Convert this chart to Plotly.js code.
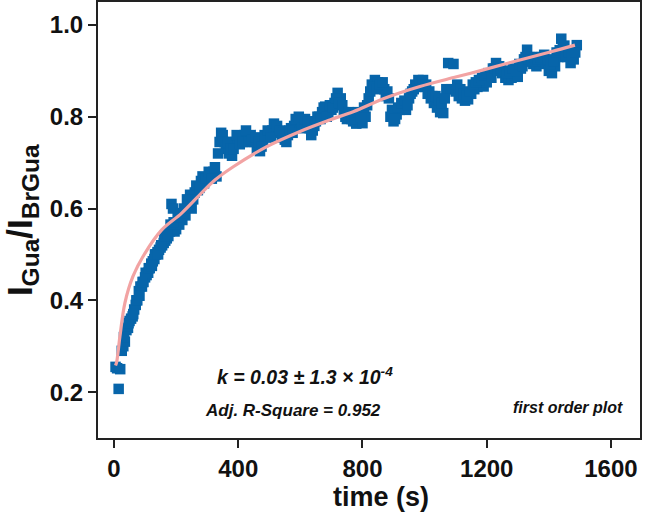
<!DOCTYPE html>
<html>
<head>
<meta charset="utf-8">
<script src="https://cdn.plot.ly/plotly-3.0.1.min.js"></script>
<style>html,body{margin:0;padding:0;background:#fff;}#chart{width:648px;height:513px;}</style>
</head>
<body>
<div id="chart"></div>
<script>
// measured data (time in s, intensity ratio) - first pass of read points
var timeS = [5,10,15,20,25,30,35,40,45,50,55,60,65,70,75,80,85,90,95,100,
  105,110,115,120,125,130,135,140,145,150,155,160,165,170,175,180,185,190,195,200,
  210,220,230,235,240,250,260,270,280,290,300,310,320,330,340,345,350,360,370,380,
  390,400,410,420,430,440,450,460,470,480,490,500,510,520,530,540,550,560,570,580,
  590,600,610,620,630,640,650,660,670,680,690,700,710,720,730,740,750,760,770,780,
  790,800,810,820,830,840,850,860,870,880,890,900,910,920,930,940,950,960,970,980,
  990,1000,1010,1020,1030,1040,1050,1060,1070,1076,1085,1093,1100,1110,1120,1130,1140,1150,1160,1170,
  1180,1190,1200,1210,1220,1230,1240,1250,1260,1270,1280,1290,1300,1310,1320,1330,1340,1350,1360,1370,
  1380,1390,1400,1410,1420,1430,1440,1450,1460,1470,1480,1490];
var ratio = [0.255,0.252,0.207,0.25,0.29,0.30,0.31,0.335,0.34,0.355,0.36,0.365,0.38,0.39,0.40,0.42,0.43,0.43,0.44,0.45,
  0.455,0.46,0.47,0.48,0.485,0.49,0.50,0.505,0.51,0.515,0.52,0.525,0.53,0.535,0.54,0.55,0.61,0.60,0.55,0.555,
  0.565,0.575,0.585,0.62,0.615,0.60,0.635,0.64,0.66,0.655,0.665,0.675,0.68,0.67,0.745,0.765,0.76,0.73,0.72,0.715,
  0.745,0.75,0.755,0.76,0.755,0.76,0.745,0.73,0.725,0.745,0.755,0.765,0.77,0.775,0.765,0.755,0.75,0.76,0.775,0.78,
  0.785,0.79,0.785,0.78,0.775,0.77,0.79,0.80,0.81,0.822,0.808,0.815,0.83,0.852,0.84,0.81,0.795,0.80,0.79,0.785,
  0.79,0.786,0.80,0.84,0.87,0.88,0.875,0.865,0.86,0.855,0.80,0.79,0.805,0.815,0.82,0.815,0.84,0.855,0.87,0.88,
  0.875,0.865,0.85,0.84,0.83,0.82,0.81,0.808,0.86,0.917,0.86,0.915,0.855,0.845,0.84,0.835,0.838,0.85,0.86,0.865,
  0.87,0.866,0.875,0.89,0.905,0.917,0.91,0.895,0.885,0.88,0.885,0.89,0.887,0.905,0.925,0.946,0.93,0.915,0.91,0.915,
  0.92,0.917,0.90,0.895,0.91,0.93,0.97,0.955,0.93,0.917,0.925,0.956];
// second pass of read points (interleaved times)
var timeS2 = [32,47,62,72,82,92,102,112,122,132,142,152,162,172,182,192,
  205,215,225,245,255,265,275,285,295,305,315,325,335,355,365,375,385,395,405,415,
  425,435,445,455,465,475,485,495,505,515,525,535,545,555,565,575,585,595,605,615,
  625,635,645,655,665,675,685,695,705,715,725,735,745,755,765,775,785,795,805,815,
  825,835,845,855,865,875,885,895,905,915,925,935,945,955,965,975,985,995,1005,1015,
  1025,1035,1045,1055,1065,1105,1115,1125,1135,1145,1155,1165,1175,1185,1195,1205,1215,1225,1235,1245,
  1255,1265,1275,1285,1295,1305,1315,1325,1335,1345,1355,1365,1375,1385,1395,1405,1415,1425,1435,1445,
  1455,1465,1475,1485];
var ratio2 = [0.32,0.35,0.37,0.40,0.41,0.44,0.46,0.47,0.475,0.50,0.50,0.52,0.54,0.545,0.565,0.57,
  0.58,0.59,0.60,0.63,0.62,0.65,0.645,0.67,0.665,0.68,0.665,0.69,0.72,0.745,0.745,0.73,0.73,0.76,0.74,0.745,
  0.77,0.745,0.75,0.755,0.745,0.735,0.76,0.77,0.755,0.785,0.78,0.77,0.765,0.745,0.77,0.765,0.795,0.80,0.775,0.795,
  0.79,0.76,0.78,0.80,0.795,0.82,0.80,0.825,0.82,0.84,0.83,0.825,0.80,0.81,0.795,0.80,0.81,0.80,0.82,0.825,
  0.855,0.865,0.86,0.87,0.875,0.845,0.84,0.815,0.795,0.82,0.83,0.835,0.825,0.85,0.86,0.865,0.87,0.88,0.87,0.855,
  0.845,0.845,0.835,0.83,0.84,0.87,0.86,0.85,0.845,0.855,0.87,0.875,0.88,0.885,0.89,0.895,0.885,0.905,0.90,0.905,
  0.90,0.895,0.90,0.905,0.90,0.915,0.91,0.93,0.925,0.92,0.93,0.925,0.93,0.935,0.925,0.915,0.92,0.94,0.945,0.95,
  0.935,0.94,0.935,0.94];
// fitted curve
var fitT = [5,9,19,35,61,100,153,218,282,325,384,492,599,695,770,878,985,1103,1189,1297,1404,1484];
var fitV = [0.258,0.267,0.321,0.394,0.452,0.503,0.553,0.59,0.634,0.662,0.691,0.735,0.768,0.793,0.811,0.842,0.866,0.887,0.902,0.922,0.941,0.956];
var xTicks = [0,400,800,1200,1600];
var yTicks = [0.2,0.4,0.6,0.8,1.0];
var yTickText = ['0.2','0.4','0.6','0.8','1.0'];

var FONT = 'Liberation Sans, Arial, Helvetica, sans-serif';
var traces = [
  {x: timeS.concat(timeS2), y: ratio.concat(ratio2), type: 'scatter', mode: 'markers',
   marker: {symbol: 'square', size: 10.5, color: '#0765aa', line: {width: 0}}, hoverinfo: 'skip'},
  {x: fitT, y: fitV, type: 'scatter', mode: 'lines',
   line: {color: '#f2a3a3', width: 3.2, shape: 'spline'}, hoverinfo: 'skip'}
];
var layout = {
  width: 648, height: 513,
  margin: {l: 98, r: 8, t: 2, b: 75},
  paper_bgcolor: '#fff', plot_bgcolor: '#fff',
  showlegend: false,
  font: {family: FONT, color: '#111', size: 24, weight: 'bold'},
  xaxis: {range: [-51.5, 1693.5], tickvals: xTicks, ticks: 'outside', ticklen: 8, tickwidth: 2,
    tickcolor: '#222', showline: true, linecolor: '#222', linewidth: 2, mirror: true,
    showgrid: false, zeroline: false, tickfont: {family: FONT, size: 24, weight: 'bold', color: '#111'}},
  yaxis: {range: [0.1, 1.05], tickvals: yTicks, ticktext: yTickText, ticks: 'outside', ticklen: 8, tickwidth: 2,
    tickcolor: '#222', showline: true, linecolor: '#222', linewidth: 2, mirror: true,
    showgrid: false, zeroline: false, tickfont: {family: FONT, size: 24, weight: 'bold', color: '#111'}},
  annotations: [
    {xref: 'paper', yref: 'paper', x: 0.522, y: -0.135, xanchor: 'center', yanchor: 'middle', showarrow: false,
     text: 'time (s)', font: {family: FONT, size: 27, weight: 'bold', color: '#111'}},
    {xref: 'paper', yref: 'paper', x: -0.14, y: 0.5, xanchor: 'center', yanchor: 'middle', showarrow: false,
     textangle: -90, text: 'I<sub>Gua</sub>/I<sub>BrGua</sub>', font: {family: FONT, size: 35, weight: 'bold', color: '#111'}},
    {xref: 'x', yref: 'y', x: 325, y: 0.235, xanchor: 'left', yanchor: 'middle', showarrow: false,
     text: 'k = 0.03 ± 1.3 × 10<sup>-4</sup>', font: {family: FONT, size: 19.5, weight: 'bold', style: 'italic', color: '#111'}},
    {xref: 'x', yref: 'y', x: 287, y: 0.161, xanchor: 'left', yanchor: 'middle', showarrow: false,
     text: 'Adj. R-Square = 0.952', font: {family: FONT, size: 17, weight: 'bold', style: 'italic', color: '#111'}},
    {xref: 'x', yref: 'y', x: 1645, y: 0.166, xanchor: 'right', yanchor: 'middle', showarrow: false,
     text: 'first order plot', font: {family: FONT, size: 16, weight: 'bold', style: 'italic', color: '#111'}}
  ]
};
Plotly.newPlot('chart', traces, layout, {staticPlot: true, displayModeBar: false});
</script>
</body>
</html>
